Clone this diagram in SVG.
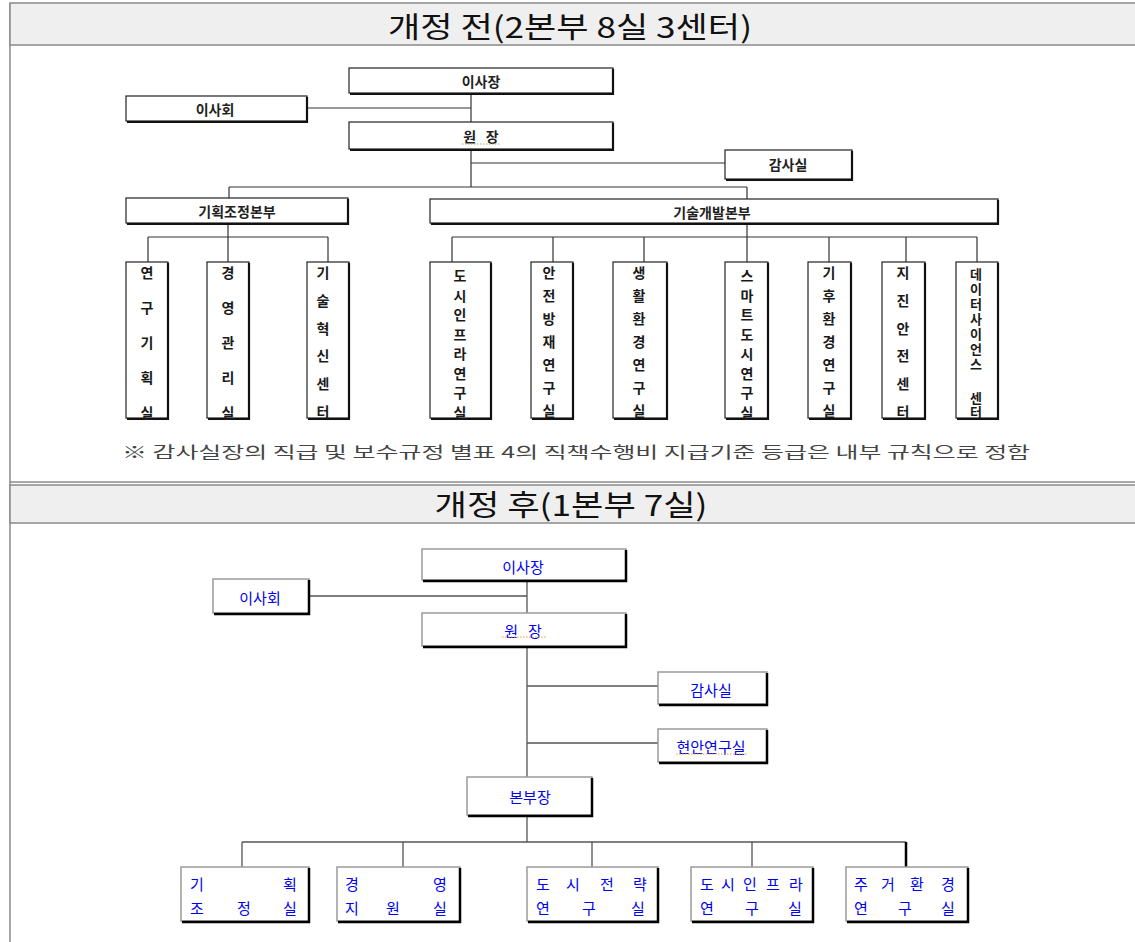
<svg xmlns="http://www.w3.org/2000/svg" width="1135" height="942" viewBox="0 0 1135 942">
<style>
.hdr{fill:#efefef;stroke:#8a8a8a;stroke-width:1.5}
.title{font-family:"Noto Sans CJK KR","Noto Sans",sans-serif;font-size:29px;fill:#111;text-anchor:middle}
.tb{fill:#fff;stroke:#222;stroke-width:1.2}
.tsh{fill:none;stroke:#111;stroke-width:2.2}
.tt{font-family:"Noto Sans CJK KR",sans-serif;font-size:14px;font-weight:bold;fill:#222;text-anchor:middle;dominant-baseline:central}
.tv{font-family:"Noto Sans CJK KR",sans-serif;font-size:14px;font-weight:bold;fill:#1a1a1a;text-anchor:middle;dominant-baseline:central}
.tl{fill:none;stroke:#333;stroke-width:1.2}
.bb{fill:#fff;stroke:#9a9a9a;stroke-width:1.5}
.bsh{fill:none;stroke:#000;stroke-width:2.5}
.bt{font-family:"Noto Sans CJK KR",sans-serif;font-size:15px;fill:#0000ee;text-anchor:middle;dominant-baseline:central}
.bl{fill:none;stroke:#555;stroke-width:1.3}
.note{font-family:"Noto Sans CJK KR",sans-serif;font-size:16px;fill:#444}
.dot{fill:none;stroke:#e0a040;stroke-width:1;stroke-dasharray:1.5 1.5}
</style>

<!-- frame -->
<g id="frame">
  <line x1="10" y1="3" x2="10" y2="942" stroke="#8a8a8a" stroke-width="1.5"/>
  <rect class="hdr" x="10" y="3" width="1130" height="42"/>
  <text class="title" x="570" y="38" textLength="364" lengthAdjust="spacingAndGlyphs">개정 전(2본부 8실 3센터)</text>
  <line x1="10" y1="482" x2="1135" y2="482" stroke="#8a8a8a" stroke-width="1.5"/>
  <rect class="hdr" x="10" y="485" width="1130" height="38"/>
  <text class="title" x="571" y="516" textLength="273" lengthAdjust="spacingAndGlyphs">개정 후(1본부 7실)</text>
</g>

<!-- top connectors -->
<g id="connectors-before">
  <path class="tl" d="M471 93V187M307 108H471M471 163H725M229 187H747M229 187V198M747 187V199"/>
  <path class="tl" d="M228 223V237M148 237H328M148 237V262M228 237V262M328 237V262"/>
  <path class="tl" d="M747 223V237M452 237H977M452 237V262M553 237V262M644 237V262M747 237V262M829 237V262M906 237V262M977 237V262"/>
</g>

<g id="b-chair">
  <rect class="tb" x="349" y="68" width="264" height="25"/>
  <path class="tsh" d="M613 69V94H350"/>
  <text class="tt" x="481" y="81">이사장</text>
</g>
<g id="b-board">
  <rect class="tb" x="126" y="96" width="181" height="25"/>
  <path class="tsh" d="M307 97V122H127"/>
  <text class="tt" x="215" y="109">이사회</text>
</g>
<g id="b-president">
  <rect class="tb" x="349" y="122" width="264" height="27"/>
  <path class="tsh" d="M613 123V150H350"/>
  <text class="tt" x="481" y="136" xml:space="preserve">원   장</text>
  <line x1="462" y1="144" x2="500" y2="144" stroke="#b0a070" stroke-width="1" stroke-dasharray="1.5 1.5"/>
</g>
<g id="b-audit">
  <rect class="tb" x="725" y="150" width="127" height="29"/>
  <path class="tsh" d="M852 151V180H726"/>
  <text class="tt" x="788" y="164">감사실</text>
</g>
<g id="b-planhq">
  <rect class="tb" x="126" y="198" width="222" height="25"/>
  <path class="tsh" d="M348 199V224H127"/>
  <text class="tt" x="237" y="211">기획조정본부</text>
</g>
<g id="b-techhq">
  <rect class="tb" x="430" y="199" width="568" height="24"/>
  <path class="tsh" d="M998 200V224H431"/>
  <text class="tt" x="712" y="212">기술개발본부</text>
</g>

<g id="b-research-plan">
  <rect class="tb" x="126" y="262" width="42" height="156"/>
  <path class="tsh" d="M168 263V419H127"/>
  <text class="tv" x="147 147 147 147 147" y="272 307 342 377 412">연구기획실</text>
</g>
<g id="b-mgmt">
  <rect class="tb" x="207" y="262" width="42" height="156"/>
  <path class="tsh" d="M249 263V419H208"/>
  <text class="tv" x="228 228 228 228 228" y="272 307 342 377 412">경영관리실</text>
</g>
<g id="b-tech-innov">
  <rect class="tb" x="307" y="262" width="42" height="156"/>
  <path class="tsh" d="M349 263V419H308"/>
  <text class="tv" x="323 323 323 323 323 323" y="272 300 328 355 383 411">기술혁신센터</text>
</g>
<g id="b-infra">
  <rect class="tb" x="430" y="262" width="61" height="156"/>
  <path class="tsh" d="M491 263V419H431"/>
  <text class="tv" x="460 460 460 460 460 460 460 460" y="275 294.6 314.1 333.7 353.3 372.9 392.4 412">도시인프라연구실</text>
</g>
<g id="b-safety">
  <rect class="tb" x="531" y="262" width="42" height="156"/>
  <path class="tsh" d="M573 263V419H532"/>
  <text class="tv" x="549 549 549 549 549 549 549" y="272 295 318 341 364 387 410">안전방재연구실</text>
</g>
<g id="b-living">
  <rect class="tb" x="613" y="262" width="54" height="156"/>
  <path class="tsh" d="M667 263V419H614"/>
  <text class="tv" x="639 639 639 639 639 639 639" y="272 295 318 341 364 387 410">생활환경연구실</text>
</g>
<g id="b-smart">
  <rect class="tb" x="725" y="262" width="43" height="156"/>
  <path class="tsh" d="M768 263V419H726"/>
  <text class="tv" x="747 747 747 747 747 747 747 747" y="275 294.6 314.1 333.7 353.3 372.9 392.4 412">스마트도시연구실</text>
</g>
<g id="b-climate">
  <rect class="tb" x="808" y="262" width="43" height="156"/>
  <path class="tsh" d="M851 263V419H809"/>
  <text class="tv" x="829 829 829 829 829 829 829" y="272 295 318 341 364 387 410">기후환경연구실</text>
</g>
<g id="b-quake">
  <rect class="tb" x="882" y="262" width="43" height="156"/>
  <path class="tsh" d="M925 263V419H883"/>
  <text class="tv" x="903 903 903 903 903 903" y="272 300 328 355 383 411">지진안전센터</text>
</g>
<g id="b-data">
  <rect class="tb" x="956" y="262" width="42" height="156"/>
  <path class="tsh" d="M998 263V419H957"/>
  <text class="tv" style="font-size:13px" x="976 976 976 976 976 976 976 976 976" y="273 288 303 318 333 348 363 397 411">데이터사이언스센터</text>
</g>

<text id="note" class="note" x="122" y="458" textLength="908" lengthAdjust="spacingAndGlyphs">※ 감사실장의 직급 및 보수규정 별표 4의 직책수행비 지급기준 등급은 내부 규칙으로 정함</text>

<!-- bottom connectors -->
<g id="connectors-after">
  <path class="bl" d="M527 580V777M309 596H527M527 686H658M527 743H658M527 815V842M242 842H906M242 842V867M403 842V867M592 842V867M752 842V867"/>
  <line x1="906" y1="842" x2="906" y2="867" stroke="#000" stroke-width="2.5"/>
</g>

<g id="a-chair">
  <rect class="bb" x="422" y="549" width="204" height="31"/>
  <path class="bsh" d="M626 550V581H423"/>
  <text class="bt" x="523" y="566">이사장</text>
</g>
<g id="a-board">
  <rect class="bb" x="213" y="579" width="96" height="34"/>
  <path class="bsh" d="M309 580V614H214"/>
  <text class="bt" x="260" y="597">이사회</text>
</g>
<g id="a-president">
  <rect class="bb" x="422" y="613" width="204" height="33"/>
  <path class="bsh" d="M626 614V647H423"/>
  <text class="bt" x="523" y="630" xml:space="preserve">원   장</text>
  <line class="dot" x1="502" y1="637" x2="546" y2="637"/>
</g>
<g id="a-audit">
  <rect class="bb" x="658" y="672" width="109" height="32"/>
  <path class="bsh" d="M767 673V705H659"/>
  <text class="bt" x="711" y="689">감사실</text>
</g>
<g id="a-issue">
  <rect class="bb" x="658" y="729" width="109" height="33"/>
  <path class="bsh" d="M767 730V763H659"/>
  <text class="bt" x="711" y="746">현안연구실</text>
  <line class="dot" x1="676" y1="754" x2="748" y2="754"/>
</g>
<g id="a-hq">
  <rect class="bb" x="467" y="777" width="125" height="38"/>
  <path class="bsh" d="M592 778V816H468"/>
  <text class="bt" x="530" y="796">본부장</text>
</g>
<g id="a-plan">
  <rect class="bb" x="181" y="867" width="128" height="54"/>
  <path class="bsh" d="M309 868V922H182"/>
  <text class="bt" x="197 290" y="883">기획</text>
  <text class="bt" x="197 244 290" y="907">조정실</text>
</g>
<g id="a-mgmt">
  <rect class="bb" x="337" y="867" width="123" height="54"/>
  <path class="bsh" d="M460 868V922H338"/>
  <text class="bt" x="352 440" y="883">경영</text>
  <text class="bt" x="352 393 440" y="907">지원실</text>
</g>
<g id="a-strategy">
  <rect class="bb" x="527" y="867" width="131" height="54"/>
  <path class="bsh" d="M658 868V922H528"/>
  <text class="bt" x="543 573 607 640" y="883">도시전략</text>
  <text class="bt" x="543 589 638" y="907">연구실</text>
</g>
<g id="a-infra">
  <rect class="bb" x="691" y="867" width="122" height="54"/>
  <path class="bsh" d="M813 868V922H692"/>
  <text class="bt" x="707 728 750 773 796" y="883">도시인프라</text>
  <text class="bt" x="707 752 795" y="907">연구실</text>
</g>
<g id="a-housing">
  <rect class="bb" x="846" y="867" width="122" height="54"/>
  <path class="bsh" d="M968 868V922H847"/>
  <text class="bt" x="861 888 917 948" y="883">주거환경</text>
  <text class="bt" x="861 905 948" y="907">연구실</text>
</g>
</svg>
